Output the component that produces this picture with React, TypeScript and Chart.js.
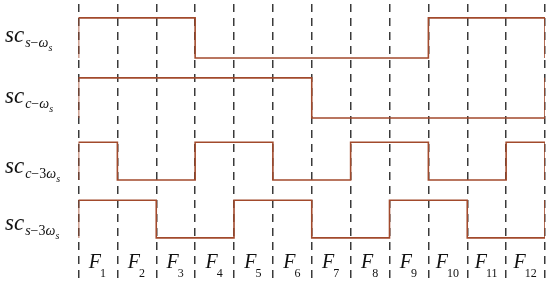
import React, { useEffect, useRef } from "react";
import { Chart, registerables } from "chart.js";
Chart.register(...registerables);

// ---- data ----
const frameNumbers = ["1", "2", "3", "4", "5", "6", "7", "8", "9", "10", "11", "12"];
const scSOmega = [1, 1, 1, 0, 0, 0, 0, 0, 0, 1, 1, 1];
const scCOmega = [1, 1, 1, 1, 1, 1, 0, 0, 0, 0, 0, 0];
const scC3Omega = [1, 0, 0, 1, 1, 0, 0, 1, 1, 0, 0, 1];
const scS3Omega = [1, 1, 0, 0, 1, 1, 0, 0, 1, 1, 0, 0];
const signalSubs = ["s−ω", "c−ω", "c−3ω", "s−3ω"];

// ---- layout (lane levels in y-scale units, label baselines in px) ----
const laneHigh = [0.35, 1.86, 3.48, 4.94];
const laneLow = [1.36, 2.87, 4.43, 5.89];
const labelBaselines = [42, 103, 173, 230];

const signals = [scSOmega, scCOmega, scC3Omega, scS3Omega];
const LINE = "#a24a2c";
const SERIF = '"Liberation Serif", "DejaVu Serif", serif';

function buildPoints(bits: number[], lane: number) {
  const lv = (b: number) => (b ? laneHigh[lane] : laneLow[lane]);
  const pts: { x: number; y: number }[] = [];
  pts.push({ x: 0, y: lv(bits[0] ? 0 : 1) });
  bits.forEach((b, i) => pts.push({ x: i, y: lv(b) }));
  const last = bits[bits.length - 1];
  pts.push({ x: bits.length, y: lv(last) });
  pts.push({ x: bits.length, y: lv(last ? 0 : 1) });
  return pts;
}

function drawSegments(ctx: CanvasRenderingContext2D, x: number, y: number, text: string, size: number) {
  let cx = x;
  for (const ch of text) {
    const italic = /[a-zω]/.test(ch);
    ctx.font = `${italic ? "italic " : ""}${size}px ${SERIF}`;
    ctx.fillText(ch, cx, y);
    cx += ctx.measureText(ch).width;
  }
  return cx;
}

const textPlugin = {
  id: "textLabels",
  afterDraw(chart: any) {
    const ctx: CanvasRenderingContext2D = chart.ctx;
    const xs = chart.scales.x;
    ctx.save();
    ctx.fillStyle = "#111111";
    ctx.textBaseline = "alphabetic";
    ctx.textAlign = "left";
    frameNumbers.forEach((n, i) => {
      const cx = xs.getPixelForValue(i + 0.5);
      ctx.font = `italic 20px ${SERIF}`;
      const wF = ctx.measureText("F").width;
      ctx.font = `12px ${SERIF}`;
      const wN = ctx.measureText(n).width;
      const start = cx - (wF + wN) / 2;
      ctx.font = `italic 20px ${SERIF}`;
      ctx.fillText("F", start, 268);
      ctx.font = `12px ${SERIF}`;
      ctx.fillText(n, start + wF - 1, 277);
    });
    signalSubs.forEach((sub, i) => {
      const base = labelBaselines[i];
      ctx.font = `italic 23px ${SERIF}`;
      ctx.fillText("sc", 5, base);
      const w = ctx.measureText("sc").width;
      const end = drawSegments(ctx, 5 + w + 1, base + 5, sub, 14);
      ctx.font = `italic 10px ${SERIF}`;
      ctx.fillText("s", end, base + 9);
    });
    ctx.restore();
  },
};

export default function App() {
  const ref = useRef<HTMLCanvasElement | null>(null);
  useEffect(() => {
    document.body.style.margin = "0";
    if (!ref.current) return;
    const chart = new Chart(ref.current, {
      type: "line",
      data: {
        datasets: signals.map((bits, i) => ({
          data: buildPoints(bits, i),
          borderColor: LINE,
          borderWidth: 1.6,
          pointRadius: 0,
          stepped: true,
          fill: false,
        })),
      },
      options: {
        animation: false,
        responsive: false,
        devicePixelRatio: 1,
        layout: { padding: { left: 78.5, right: 5, top: 4, bottom: 2 } },
        plugins: { legend: { display: false }, tooltip: { enabled: false } },
        scales: {
          x: {
            type: "linear",
            min: 0,
            max: 12,
            ticks: { display: false, stepSize: 1 },
            grid: { color: "#3a3a3a", lineWidth: 1.5, drawTicks: false },
            border: { display: false, dash: [8, 6] },
          },
          y: {
            type: "linear",
            reverse: true,
            min: 0,
            max: 7,
            display: false,
          },
        },
      },
      plugins: [textPlugin],
    });
    return () => chart.destroy();
  }, []);
  return (
    <canvas
      ref={ref}
      width={550}
      height={284}
      style={{ position: "absolute", left: 0, top: 0, width: 550, height: 284 }}
    />
  );
}
